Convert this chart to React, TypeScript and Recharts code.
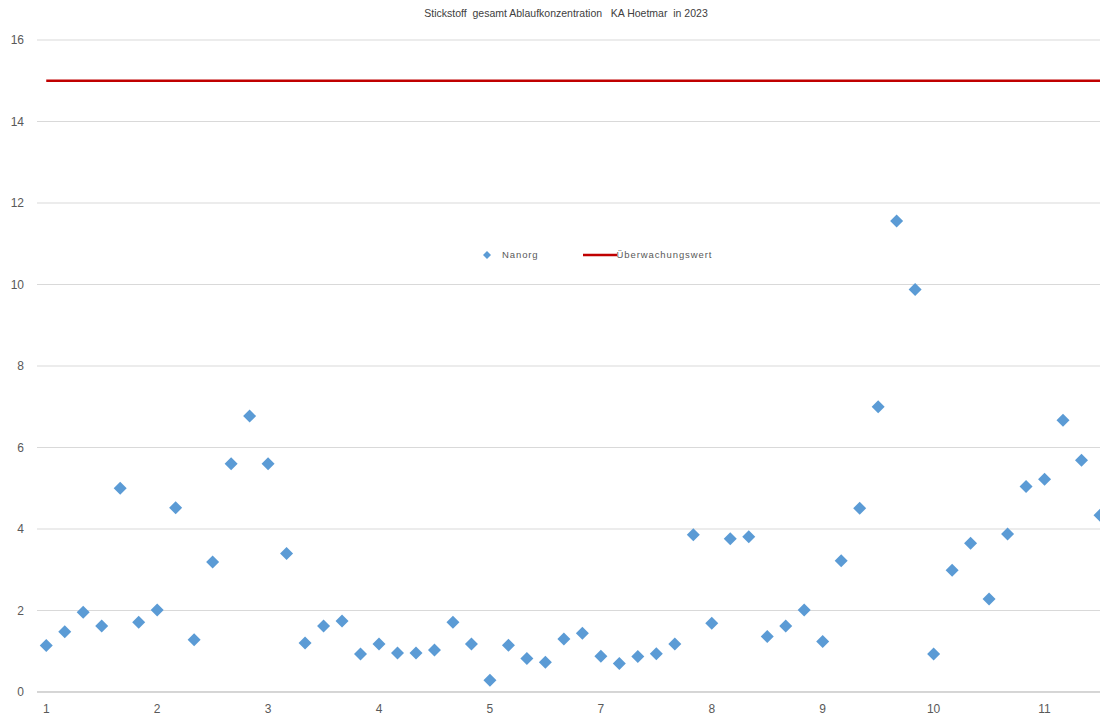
import React from 'react';
import { ComposedChart, Scatter, Line, XAxis, YAxis, CartesianGrid, Legend } from 'recharts';

const chartTitle = 'Stickstoff  gesamt Ablaufkonzentration   KA Hoetmar  in 2023';
const seriesName = 'Nanorg';
const limitName = 'Überwachungswert';

const nanorgValues = [
  1.14, 1.48, 1.96, 1.62, 5.0, 1.71, 2.01, 4.52, 1.28, 3.19, 5.6, 6.77, 5.6, 3.4, 1.2, 1.62, 1.74, 0.93,
  1.18, 0.96, 0.96, 1.03, 1.71, 1.18, 0.29, 1.15, 0.82, 0.73, 1.3, 1.44, 0.88, 0.7, 0.87, 0.94, 1.18, 3.86,
  1.69, 3.76, 3.81, 1.36, 1.62, 2.01, 1.24, 3.22, 4.51, 7.0, 11.56, 9.88, 0.93, 2.99, 3.65, 2.28, 3.88, 5.04,
  5.22, 6.67, 5.69, 4.34,
];
const limitValue = 15;

const xTickPositions = [0, 6, 12, 18, 24, 30, 36, 42, 48, 54];
const xTickLabels = ['1', '2', '3', '4', '5', '7', '8', '9', '10', '11'];
const yTicks = [0, 2, 4, 6, 8, 10, 12, 14, 16];

const data = nanorgValues.map((v, i) => ({ x: i, nanorg: v, limit: limitValue }));

const BLUE = '#5B9BD5';
const RED = '#C00000';
const FONT = '"Liberation Sans", Arial, sans-serif';

const Diamond = (props: any) => {
  const { cx, cy } = props;
  if (cx == null || cy == null) return null;
  const r = 6.5;
  return (
    <polygon
      points={`${cx},${cy - r} ${cx + r},${cy} ${cx},${cy + r} ${cx - r},${cy}`}
      fill={BLUE}
    />
  );
};

const LegendContent = () => (
  <div style={{ display: 'flex', alignItems: 'center', fontFamily: FONT, fontSize: 9.5, color: '#595959', letterSpacing: 0.9 }}>
    <svg width={10} height={10} style={{ marginRight: 10 }}>
      <polygon points="5,1 9,5 5,9 1,5" fill={BLUE} />
    </svg>
    <span>{seriesName}</span>
    <svg width={34} height={10} style={{ marginLeft: 44 }}>
      <line x1={0} y1={5} x2={34} y2={5} stroke={RED} strokeWidth={2.5} />
    </svg>
    <span>{limitName}</span>
  </div>
);

export default function App() {
  return (
    <div style={{ position: 'absolute', left: 0, top: 0, width: 1100, height: 721, background: '#fff' }}>
      <div
        style={{
          position: 'absolute',
          left: 0,
          top: 7,
          width: 1132,
          textAlign: 'center',
          fontFamily: FONT,
          fontSize: 10.5,
          color: '#404040',
          whiteSpace: 'pre',
          zIndex: 2,
        }}
      >
        {chartTitle}
      </div>
      <ComposedChart width={1100} height={721} data={data} margin={{ top: 40, right: 0, bottom: 0, left: 0 }}>
        <CartesianGrid vertical={false} stroke="#d9d9d9" />
        <XAxis
          type="number"
          dataKey="x"
          domain={[-0.5, 57]}
          ticks={xTickPositions}
          tickFormatter={(v: number) => xTickLabels[xTickPositions.indexOf(v)] ?? ''}
          tickLine={false}
          tickMargin={6}
          height={29}
          stroke="#bfbfbf"
          tick={{ fill: '#595959', fontSize: 12, fontFamily: FONT }}
          allowDataOverflow
        />
        <YAxis
          type="number"
          domain={[0, 16]}
          ticks={yTicks}
          width={37}
          axisLine={false}
          tickLine={false}
          tickMargin={7}
          tick={{ fill: '#595959', fontSize: 12, fontFamily: FONT }}
        />
        <Legend
          layout="horizontal"
          verticalAlign="middle"
          align="center"
          wrapperStyle={{ position: 'absolute', left: 482, top: 249, width: 'auto' }}
          content={<LegendContent />}
        />
        <Line
          dataKey="limit"
          stroke={RED}
          strokeWidth={2.5}
          dot={false}
          activeDot={false}
          isAnimationActive={false}
          name={limitName}
        />
        <Scatter dataKey="nanorg" shape={<Diamond />} fill={BLUE} isAnimationActive={false} name={seriesName} />
      </ComposedChart>
    </div>
  );
}
